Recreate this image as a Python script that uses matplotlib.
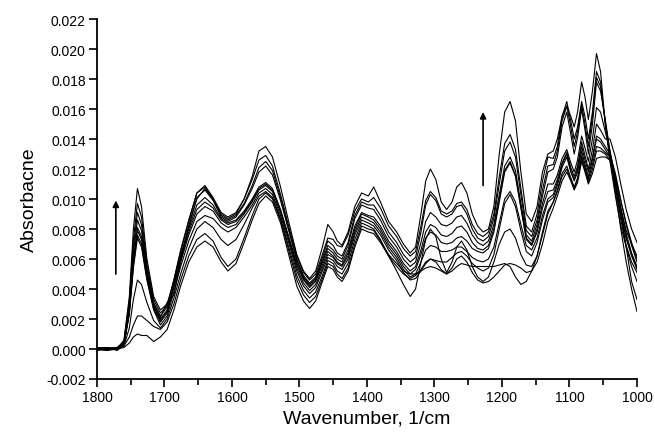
import matplotlib

matplotlib.use("Agg")
import matplotlib.pyplot as plt
from matplotlib.ticker import FormatStrFormatter, MultipleLocator

plt.rcParams["font.family"] = ["Liberation Sans", "DejaVu Sans"]
plt.rcParams["axes.unicode_minus"] = False

# wavenumber grid (1/cm)
wavenumber = [
    1800, 1785, 1770, 1760, 1752, 1746, 1740, 1734, 1726, 1716,
    1706, 1696, 1686, 1676, 1664, 1652, 1640, 1628, 1616, 1606,
    1594, 1582, 1570, 1560, 1550, 1540, 1528, 1516, 1504, 1494,
    1485, 1476, 1466, 1458, 1450, 1444, 1437, 1428, 1418, 1408,
    1398, 1390, 1380, 1368, 1356, 1346, 1336, 1328, 1320, 1313,
    1306, 1298, 1290, 1282, 1274, 1267, 1260, 1252, 1244, 1236,
    1228, 1220, 1212, 1204, 1196, 1188, 1180, 1172, 1164, 1156,
    1148, 1140, 1132, 1124, 1118, 1111, 1104, 1098, 1093, 1088,
    1082, 1077, 1072, 1066, 1060, 1054, 1047, 1040, 1032, 1024,
    1016, 1008, 1000,
]

s1 = [
    .0000, .0001, .0000, .0006, .0035, .0080, .0107, .0095, .0060, .0035,
    .0026, .0030, .0045, .0062, .0082, .0100, .0107, .0100, .0090, .0087,
    .0090, .0100, .0115, .0132, .0135, .0128, .0108, .0085, .0063, .0052,
    .0047, .0052, .0068, .0083, .0078, .0072, .0069, .0078, .0095, .0104,
    .0102, .0108, .0098, .0085, .0078, .0070, .0064, .0068, .0090, .0112,
    .0120, .0113, .0098, .0093, .0098, .0108, .0111, .0104, .0090, .0082,
    .0078, .0080, .0095, .0130, .0158, .0165, .0152, .0118, .0090, .0085,
    .0095, .0118, .0130, .0132, .0140, .0155, .0162, .0155, .0148, .0158,
    .0178, .0168, .0153, .0172, .0197, .0185, .0150, .0128, .0105, .0080,
    .0058, .0040, .0025,
]
s2 = [
    .0001, .0000, .0001, .0005, .0032, .0073, .0097, .0088, .0057, .0033,
    .0024, .0029, .0046, .0065, .0085, .0104, .0109, .0101, .0091, .0088,
    .0091, .0100, .0113, .0126, .0129, .0122, .0103, .0082, .0062, .0051,
    .0046, .0050, .0063, .0074, .0073, .0069, .0068, .0076, .0092, .0100,
    .0098, .0101, .0094, .0082, .0075, .0067, .0062, .0065, .0082, .0099,
    .0105, .0101, .0092, .0090, .0092, .0097, .0098, .0093, .0083, .0077,
    .0075, .0078, .0090, .0115, .0137, .0143, .0133, .0107, .0082, .0078,
    .0090, .0112, .0128, .0127, .0135, .0155, .0165, .0152, .0140, .0148,
    .0165, .0155, .0140, .0158, .0185, .0178, .0150, .0125, .0102, .0082,
    .0068, .0055, .0045,
]
s3 = [
    -.0001, .0001, .0000, .0004, .0030, .0068, .0091, .0083, .0054, .0031,
    .0022, .0028, .0046, .0066, .0086, .0104, .0108, .0100, .0089, .0086,
    .0089, .0097, .0109, .0121, .0125, .0119, .0101, .0080, .0060, .0049,
    .0044, .0048, .0061, .0072, .0069, .0064, .0062, .0071, .0089, .0098,
    .0096, .0096, .0089, .0078, .0071, .0063, .0058, .0061, .0078, .0096,
    .0103, .0099, .0090, .0088, .0090, .0095, .0096, .0090, .0080, .0074,
    .0072, .0075, .0087, .0110, .0132, .0138, .0128, .0103, .0079, .0075,
    .0086, .0106, .0122, .0123, .0132, .0152, .0162, .0148, .0135, .0145,
    .0163, .0150, .0135, .0155, .0181, .0175, .0152, .0130, .0108, .0086,
    .0069, .0058, .0051,
]
s4 = [
    .0000, -.0001, .0001, .0004, .0028, .0064, .0086, .0079, .0052, .0030,
    .0021, .0031, .0036, .0058, .0082, .0101, .0106, .0099, .0088, .0085,
    .0088, .0096, .0107, .0118, .0122, .0116, .0099, .0079, .0059, .0048,
    .0043, .0047, .0059, .0069, .0066, .0062, .0060, .0069, .0087, .0096,
    .0094, .0093, .0086, .0075, .0068, .0060, .0055, .0058, .0071, .0085,
    .0091, .0088, .0083, .0082, .0084, .0088, .0089, .0084, .0076, .0071,
    .0069, .0072, .0083, .0103, .0122, .0128, .0119, .0097, .0076, .0072,
    .0083, .0102, .0118, .0120, .0128, .0148, .0158, .0143, .0130, .0141,
    .0160, .0146, .0130, .0150, .0178, .0172, .0153, .0132, .0112, .0091,
    .0074, .0062, .0053,
]
s5 = [
    .0001, .0000, .0000, .0003, .0026, .0060, .0081, .0075, .0050, .0029,
    .0020, .0026, .0043, .0062, .0080, .0096, .0101, .0096, .0087, .0084,
    .0086, .0092, .0100, .0108, .0111, .0107, .0093, .0075, .0057, .0047,
    .0042, .0046, .0058, .0067, .0064, .0060, .0058, .0066, .0082, .0091,
    .0089, .0088, .0082, .0072, .0065, .0057, .0052, .0055, .0066, .0078,
    .0083, .0081, .0076, .0075, .0077, .0081, .0082, .0078, .0071, .0067,
    .0066, .0069, .0080, .0100, .0119, .0125, .0116, .0095, .0074, .0070,
    .0080, .0097, .0110, .0110, .0116, .0127, .0133, .0124, .0118, .0126,
    .0142, .0134, .0125, .0140, .0161, .0158, .0145, .0132, .0114, .0094,
    .0077, .0064, .0055,
]
s6 = [
    .0000, .0001, -.0001, .0003, .0025, .0058, .0079, .0073, .0049, .0028,
    .0019, .0025, .0042, .0060, .0078, .0093, .0098, .0094, .0086, .0083,
    .0085, .0091, .0099, .0107, .0110, .0106, .0092, .0074, .0056, .0046,
    .0041, .0045, .0056, .0065, .0062, .0058, .0056, .0064, .0080, .0090,
    .0088, .0086, .0080, .0070, .0063, .0055, .0050, .0053, .0063, .0074,
    .0078, .0076, .0071, .0070, .0071, .0074, .0075, .0072, .0067, .0065,
    .0064, .0067, .0078, .0098, .0118, .0124, .0115, .0094, .0073, .0069,
    .0078, .0094, .0105, .0106, .0113, .0124, .0131, .0121, .0115, .0122,
    .0138, .0129, .0120, .0133, .0150, .0146, .0140, .0140, .0128, .0110,
    .0093, .0080, .0071,
]
s7 = [
    .0001, .0000, .0000, .0003, .0024, .0056, .0076, .0070, .0047, .0027,
    .0018, .0024, .0041, .0058, .0076, .0090, .0095, .0092, .0084, .0081,
    .0083, .0090, .0098, .0106, .0109, .0105, .0091, .0073, .0054, .0044,
    .0039, .0043, .0054, .0063, .0061, .0057, .0055, .0062, .0078, .0088,
    .0086, .0084, .0078, .0068, .0061, .0053, .0048, .0050, .0058, .0066,
    .0069, .0068, .0065, .0065, .0066, .0068, .0068, .0065, .0061, .0059,
    .0058, .0060, .0068, .0084, .0100, .0105, .0098, .0083, .0069, .0066,
    .0074, .0089, .0100, .0103, .0111, .0123, .0130, .0119, .0113, .0120,
    .0135, .0126, .0118, .0128, .0142, .0140, .0135, .0130, .0117, .0099,
    .0083, .0069, .0058,
]
s8 = [
    -.0001, .0000, .0001, .0003, .0023, .0054, .0074, .0068, .0046, .0026,
    .0016, .0022, .0038, .0055, .0072, .0085, .0089, .0087, .0081, .0078,
    .0081, .0088, .0096, .0104, .0107, .0103, .0089, .0071, .0052, .0042,
    .0037, .0041, .0052, .0061, .0059, .0055, .0053, .0060, .0076, .0086,
    .0084, .0082, .0076, .0066, .0059, .0051, .0046, .0047, .0052, .0057,
    .0060, .0059, .0058, .0058, .0061, .0064, .0065, .0062, .0057, .0054,
    .0052, .0054, .0063, .0080, .0097, .0103, .0095, .0079, .0065, .0062,
    .0071, .0086, .0098, .0101, .0109, .0121, .0128, .0118, .0112, .0118,
    .0132, .0123, .0115, .0126, .0140, .0138, .0133, .0128, .0116, .0099,
    .0084, .0071, .0060,
]
s9 = [
    .0000, .0001, .0000, .0002, .0014, .0033, .0046, .0043, .0031, .0019,
    .0014, .0020, .0034, .0050, .0067, .0080, .0085, .0081, .0073, .0069,
    .0073, .0083, .0094, .0102, .0105, .0101, .0087, .0068, .0049, .0039,
    .0034, .0038, .0049, .0059, .0057, .0052, .0050, .0057, .0073, .0084,
    .0082, .0080, .0073, .0062, .0052, .0043, .0035, .0040, .0058, .0073,
    .0080, .0075, .0060, .0051, .0058, .0068, .0072, .0066, .0055, .0048,
    .0045, .0048, .0058, .0070, .0078, .0080, .0074, .0063, .0056, .0055,
    .0062, .0078, .0092, .0098, .0106, .0117, .0122, .0114, .0108, .0114,
    .0129, .0121, .0113, .0123, .0135, .0134, .0131, .0128, .0112, .0090,
    .0068, .0045, .0033,
]
s10 = [
    .0001, .0000, .0001, .0002, .0008, .0016, .0022, .0022, .0019, .0015,
    .0013, .0018, .0030, .0046, .0062, .0073, .0077, .0072, .0061, .0055,
    .0060, .0074, .0089, .0100, .0104, .0100, .0086, .0066, .0046, .0036,
    .0031, .0035, .0047, .0057, .0055, .0050, .0047, .0054, .0070, .0082,
    .0080, .0079, .0072, .0063, .0057, .0052, .0050, .0050, .0052, .0054,
    .0055, .0054, .0052, .0050, .0052, .0055, .0057, .0056, .0055, .0055,
    .0055, .0055, .0055, .0056, .0057, .0055, .0048, .0043, .0045, .0052,
    .0062, .0076, .0090, .0098, .0105, .0115, .0120, .0113, .0107, .0113,
    .0127, .0119, .0111, .0120, .0132, .0132, .0130, .0126, .0112, .0094,
    .0079, .0070, .0062,
]
s11 = [
    .0000, -.0001, .0000, .0001, .0004, .0008, .0010, .0009, .0009, .0005,
    .0008, .0013, .0026, .0042, .0058, .0068, .0072, .0068, .0058, .0052,
    .0057, .0071, .0086, .0097, .0102, .0098, .0084, .0063, .0042, .0032,
    .0027, .0032, .0045, .0055, .0053, .0048, .0045, .0052, .0068, .0080,
    .0078, .0077, .0071, .0062, .0055, .0050, .0047, .0049, .0053, .0058,
    .0060, .0058, .0053, .0050, .0054, .0060, .0062, .0058, .0051, .0046,
    .0044, .0045, .0048, .0052, .0056, .0057, .0056, .0054, .0051, .0052,
    .0058, .0070, .0085, .0094, .0102, .0112, .0118, .0112, .0106, .0111,
    .0125, .0118, .0110, .0117, .0127, .0128, .0128, .0126, .0110, .0090,
    .0074, .0063, .0054,
]
spectra = [s1, s2, s3, s4, s5, s6, s7, s8, s9, s10, s11]

# arrows marking growth: (wavenumber, from, to)
arrow_left = (1772, 0.0050, 0.0099)
arrow_right = (1228, 0.0109, 0.0158)

fig = plt.figure(figsize=(6.55, 4.39), dpi=100)
ax = fig.add_axes([0.148, 0.1344, 0.8245, 0.82])

for s in spectra:
    ax.plot(wavenumber, s, color="black", lw=0.8)

for x, y0, y1 in (arrow_left, arrow_right):
    ax.annotate("", xy=(x, y1), xytext=(x, y0),
                arrowprops=dict(arrowstyle="-|>", color="black", lw=1.2,
                                mutation_scale=9, shrinkA=0, shrinkB=0))

ax.set_xlim(1800, 1000)
ax.set_ylim(-0.002, 0.022)
ax.xaxis.set_major_locator(MultipleLocator(100))
ax.xaxis.set_minor_locator(MultipleLocator(50))
ax.yaxis.set_major_locator(MultipleLocator(0.002))
ax.yaxis.set_major_formatter(FormatStrFormatter("%.3f"))

for side in ("top", "right"):
    ax.spines[side].set_visible(False)
for side in ("left", "bottom"):
    ax.spines[side].set_linewidth(1.3)

ax.tick_params(which="major", direction="out", length=6, width=1.2,
               labelsize=10, pad=2)
ax.tick_params(which="minor", direction="out", length=4.5, width=1.2)

ax.set_xlabel("Wavenumber, 1/cm", fontsize=14, labelpad=4)
ax.set_ylabel("Absorbacne", fontsize=14, labelpad=6)

fig.savefig("out.png", dpi=100)
